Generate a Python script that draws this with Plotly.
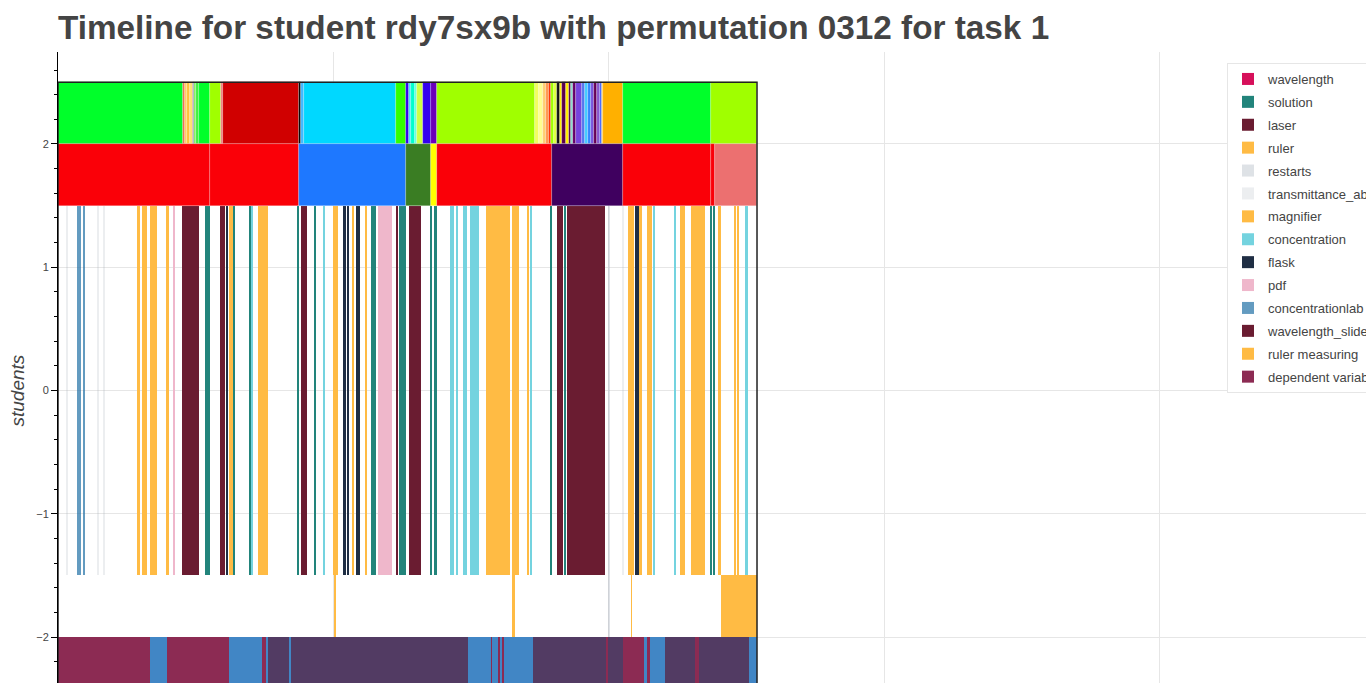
import plotly.graph_objects as go

# ---------------- data (time in seconds) ----------------
TOTAL = 1268.7

# top band: contiguous segments (edges) and their colours
top_edges = [0, 226.3, 230.5, 234.1, 239.6, 244.5, 246.8, 250.5, 255.9, 275.9, 295.3, 300,
             437.4, 440.5, 446.5, 614, 632.1, 637, 640.7, 648, 652.1, 662.5, 677.5, 687.9,
             866.3, 873, 880.3, 885.7, 891.2, 894.8, 900.3, 905.7, 911.1, 915.6, 922, 927.5,
             931.1, 934.7, 940.2, 951.1, 956.5, 962, 967.4, 972.8, 978.3, 983.7, 986.5, 989.2,
             1025.5, 1185.2, 1268.7]
top_colors = ["#00ff2a", "#f06a50", "#ffd060", "#ffc03a", "#ffe070", "#7040c0", "#80f060",
              "#40f040", "#00ff2a", "#a0ff00", "#f08080", "#d00000", "#000000", "#40b8ff",
              "#00d8ff", "#33ff00", "#3300ee", "#40e0ff", "#00ffcc", "#66ffdd", "#ccff44",
              "#3300ee", "#6a00bb", "#a0ff00", "#f0ff60", "#ffff90", "#ffd070", "#ff9a50",
              "#ff3000", "#a0ff00", "#e0ff40", "#111111", "#ffee00", "#5a0050", "#ffee00",
              "#5a0050", "#88ddcc", "#660066", "#7744dd", "#5577ee", "#44ccff", "#3388ff",
              "#7755dd", "#660055", "#8855cc", "#4466ff", "#ffd040", "#ffb000", "#00ff2a",
              "#a0ff00"]

# second band
state_edges = [0, 275.9, 437.4, 631.1, 677.5, 687.9, 896, 1025.5, 1185.2, 1192.5, 1268.7]
state_colors = ["#fa0008", "#fa0008", "#1e78ff", "#3a7d23", "#ffff00", "#fa0008",
                "#3f005f", "#fa0008", "#fa0008", "#ec7070"]

# middle band: actions (start, end)
wavelength = [(0, 0)]
solution = [(266.3, 276.4), (318.2, 320), (347.6, 349.8), (434.3, 436.9), (465.2, 468.3),
            (568.1, 577.2), (618.4, 631.1), (675.2, 678.3), (682.4, 688.4), (893, 896.1),
            (918.9, 921.5), (1183.4, 1185.7), (1189.4, 1192.5)]
laser = [(224.5, 256.5), (294, 303.6), (441, 451.9)]
ruler = [(143.4, 148.3), (151.9, 161.5), (166.4, 180.2), (310.4, 317.6), (362.5, 380.6),
         (499.1, 508.2), (533.1, 537.8), (776.8, 820.4), (823.5, 832.5), (834.4, 837.3),
         (851.2, 854.9), (1035.1, 1045.4), (1056.3, 1059.4), (1068.5, 1077.6),
         (1128.9, 1138), (1148.3, 1174.3), (1226.9, 1230.6), (1232.9, 1235.5)]
restarts = [(1000.0, 1001.6)]
transmittance_abs = [(15.0, 16.6), (71.3, 72.9), (82.7, 84.3), (1025.2, 1026.8)]
magnifier = [(197.3, 200.9), (557.2, 560.3), (1199.7, 1203.3)]
concentration = [(350.8, 353.4), (481.5, 483.3), (711.5, 714.6), (716.4, 718.7), (722.4, 724.2),
                 (734.5, 742.9), (747.8, 764.7), (856.7, 860.3), (1081.7, 1083.6),
                 (1119.3, 1121.7), (1246.4, 1252.4)]
flask = [(305.8, 307.6), (517.3, 522.2), (525.1, 528.7), (540.3, 548.7), (1047.8, 1055.1)]
pdf = [(209.6, 211.4), (580.8, 605.7)]
concentrationlab = [(34.5, 41.7), (37.2, 41.7), (44.5, 49.9)]
wavelength_slider = [(613.5, 615.8), (637.6, 659.4), (905.1, 917.1), (923.3, 992.8)]
ruler_measuring = [(501.5, 504.6), (824.6, 827.1), (827.6, 829.5), (1040, 1041.8), (1202.8, 1268.7)]

# bottom band: contiguous segments with variable kind
var_edges = [0, 167, 198.4, 310.9, 370.8, 377, 381.2, 419.8, 422.9, 744.7, 785.9, 788.3, 798.1,
             802.2, 806.4, 809.5, 862.7, 995.5, 997.7, 1026, 1064.1, 1069, 1075, 1101.7,
             1156.2, 1164, 1254.2, 1268.7]
var_kinds = ["dep", "ind", "dep", "ind", "dep", "ind", "ctl", "ind", "ctl", "ind", "dep", "ind",
             "dep", "ind", "dep", "ind", "ctl", "dep", "ctl", "dep", "ind", "dep", "ind", "ctl",
             "dep", "ctl", "ind"]

# ---------------- styling ----------------
Y_TOP, Y_STATE, Y_ACT, Y_MEAS, Y_VAR = 2.25, 1.75, 0.0, -1.75, -2.25
H_BAND, H_ACT = 0.5, 3.0
TEXT = "#444444"
FONT = "Liberation Sans, Arial, Helvetica, sans-serif"
EDGE = dict(width=0.6, color="rgba(255,255,255,0.35)")


def hbar(name, spans, color, y, h, showlegend=True, opacity=1.0):
    starts = [s for s, e in spans]
    durs = [e - s for s, e in spans]
    n = len(spans)
    return go.Bar(orientation="h", y=[y] * n, x=durs, base=starts, width=[h] * n,
                  marker=dict(color=color, line=dict(width=0)), opacity=opacity,
                  name=name, legendgroup=name, showlegend=showlegend, hoverinfo="skip")


def edge_bar(edges, colors, y, h):
    spans = list(zip(edges[:-1], edges[1:]))
    starts = [s for s, e in spans]
    durs = [e - s for s, e in spans]
    n = len(spans)
    return go.Bar(orientation="h", y=[y] * n, x=durs, base=starts, width=[h] * n,
                  marker=dict(color=colors, line=EDGE), showlegend=False,
                  hoverinfo="skip")


fig = go.Figure()
fig.add_trace(hbar("wavelength", wavelength, "#d6105a", Y_ACT, H_ACT))
fig.add_trace(hbar("solution", solution, "#22847b", Y_ACT, H_ACT))
fig.add_trace(hbar("laser", laser, "#6a1c31", Y_ACT, H_ACT))
fig.add_trace(hbar("ruler", ruler, "#ffbb44", Y_ACT, H_ACT))
fig.add_trace(hbar("restarts", restarts, "#a3adb9", -0.25, 3.5, opacity=0.35))
fig.add_trace(hbar("transmittance_abs", transmittance_abs, "#a3adb9", Y_ACT, H_ACT, opacity=0.2))
fig.add_trace(hbar("magnifier", magnifier, "#ffbb44", Y_ACT, H_ACT))
fig.add_trace(hbar("concentration", concentration, "#74d3df", Y_ACT, H_ACT))
fig.add_trace(hbar("flask", flask, "#1f2e44", Y_ACT, H_ACT))
fig.add_trace(hbar("pdf", pdf, "#efb7cb", Y_ACT, H_ACT))
fig.add_trace(hbar("concentrationlab", concentrationlab, "#2271a6", Y_ACT, H_ACT, opacity=0.7))
fig.add_trace(hbar("wavelength_slider", wavelength_slider, "#6a1c31", Y_ACT, H_ACT))
fig.add_trace(hbar("ruler measuring", ruler_measuring, "#ffbb44", Y_MEAS, H_BAND))

var_spans = list(zip(var_edges[:-1], var_edges[1:]))
fig.add_trace(hbar("dependent variable", [s for s, k in zip(var_spans, var_kinds) if k == "dep"],
                   "#8c2b53", Y_VAR, H_BAND))
fig.add_trace(hbar("independent variable", [s for s, k in zip(var_spans, var_kinds) if k == "ind"],
                   "#4186c5", Y_VAR, H_BAND, showlegend=False))
fig.add_trace(hbar("control variable", [s for s, k in zip(var_spans, var_kinds) if k == "ctl"],
                   "#523b63", Y_VAR, H_BAND, showlegend=False))

fig.add_trace(edge_bar(top_edges, top_colors, Y_TOP, H_BAND))
fig.add_trace(edge_bar(state_edges, state_colors, Y_STATE, H_BAND))

fig.add_shape(type="rect", xref="x", yref="y", x0=0, x1=TOTAL,
              y0=Y_VAR - H_BAND / 2, y1=Y_TOP + H_BAND / 2,
              line=dict(color="#222222", width=1.5), layer="above")

W, H = 1366, 683
ML, MT = 58, 52
fig.update_layout(
    width=W, height=H,
    margin=dict(l=ML, r=0, t=MT, b=0, pad=0, autoexpand=False),
    plot_bgcolor="white", paper_bgcolor="white",
    barmode="overlay", bargap=0,
    font=dict(family=FONT, color=TEXT),
    title=dict(text="Timeline for student rdy7sx9b with permutation 0312 for task 1",
               font=dict(family=FONT, size=33.3, color=TEXT, weight="bold"),
               x=ML / W, xanchor="left", y=1 - 27 / H, yanchor="middle"),
    legend=dict(x=(1227 - ML) / (W - ML), xanchor="left", y=1 - 11 / (H - MT), yanchor="top",
                bgcolor="white", bordercolor="#e6e6e6", borderwidth=1,
                font=dict(family=FONT, size=13, color=TEXT), tracegroupgap=3,
                traceorder="grouped", entrywidth=102, entrywidthmode="pixels"),
    xaxis=dict(range=[0, (W - ML) * 1.815], tick0=0, dtick=500, showgrid=True,
               gridcolor="#e6e6e6", zeroline=False, showticklabels=False, ticks="",
               showline=False, automargin=False),
    yaxis=dict(range=[-2.373, 2.746], tick0=0, dtick=1, showgrid=True, gridcolor="#e6e6e6",
               zeroline=False, showline=True, linecolor="black", linewidth=1,
               ticks="outside", ticklen=6, tickcolor="black", automargin=False,
               minor=dict(dtick=0.2, ticks="outside", ticklen=3, tickcolor="black", showgrid=False),
               tickfont=dict(family=FONT, size=11, color=TEXT)),
    annotations=[dict(text="students", xref="paper", yref="y", x=0, y=0, xshift=-41,
                      xanchor="center", yanchor="middle", textangle=-90, showarrow=False,
                      font=dict(family=FONT, size=19, color=TEXT, style="italic"))],
)

# remove the default 8 px page margin so the figure fills the window exactly
fig.write_html("out.html", config={"displayModeBar": False},
               post_script="document.body.style.margin='0';document.body.style.overflow='hidden';")
